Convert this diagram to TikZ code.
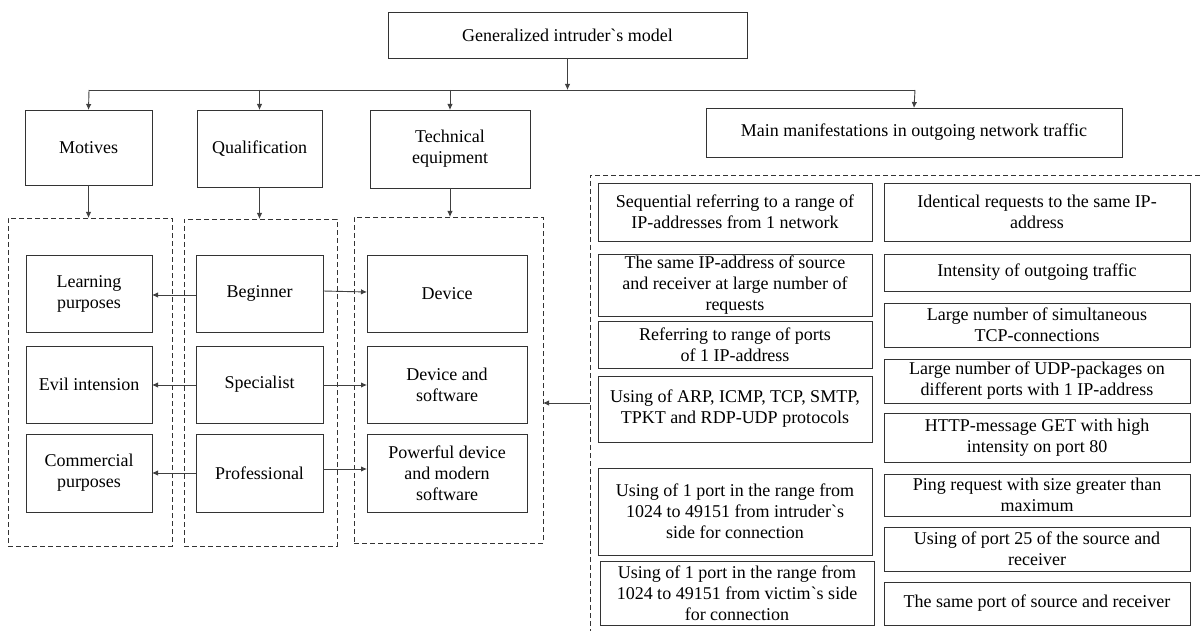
\documentclass[tikz,border=0pt]{standalone}
\usepackage{fontspec}
\setmainfont{Liberation Serif}
\usetikzlibrary{arrows.meta}
\tikzset{
  box/.style={draw=black!80, line width=0.9pt, inner sep=0pt, outer sep=0pt,
    align=center, font=\rmfamily\fontsize{18}{21}\selectfont},
  group/.style={draw=black!80, line width=0.9pt, dash pattern=on 5pt off 3pt,
    inner sep=0pt, outer sep=0pt},
  arr/.style={draw=black!75, line width=0.9pt, -{Latex[length=6pt,width=5.5pt]}},
  link/.style={draw=black!75, line width=0.9pt},
}
% box from its corners: [style]{name}{x1}{y1}{x2}{y2}{text}
\newcommand\drawbox[7][box]{%
  \node[#1, minimum width={#5-#3}, minimum height={#6-#4}] (#2)
    at ({(#3+#5)/2},{(#4+#6)/2}) {#7};}
\newcommand\gr{\textasciigrave}
\begin{document}
\begin{tikzpicture}[x=1pt,y=-1pt]
\useasboundingbox (0,0) rectangle (1200,631);

% top level
\drawbox{top}{388}{12}{747}{58}{Generalized intruder\gr s model}
\drawbox{mot}{25}{110}{152}{185}{Motives}
\drawbox{qual}{197}{110}{322}{187}{Qualification}
\drawbox{tech}{370}{110}{530}{188}{Technical\\equipment}
\drawbox{main}{706}{108}{1122}{157}{Main manifestations in outgoing network traffic}

% bus
\coordinate (busL) at (89,90);
\coordinate (busR) at (915,90);
\draw[link] (busL) -- (busR);
\draw[arr] (top.south) -- (top.south |- busL);
\draw[arr] (busL) -- (mot.north);
\draw[arr] (qual.north |- busL) -- (qual.north);
\draw[arr] (tech.north |- busL) -- (tech.north);
\draw[arr] (busR) -- (main.north);

% dashed groups
\drawbox[group]{g1}{8}{218}{172}{546}{}
\drawbox[group]{g2}{184}{219}{337}{546}{}
\drawbox[group]{g3}{354}{217}{543}{543}{}
\draw[arr] (mot.south) -- (mot.south |- g1.north);
\draw[arr] (qual.south) -- (qual.south |- g2.north);
\draw[arr] (tech.south) -- (tech.south |- g3.north);

% motives
\drawbox{learn}{26}{255}{152}{332}{Learning\\purposes}
\drawbox{evil}{26}{346}{152}{423}{Evil intension}
\drawbox{comm}{26}{434}{152}{512}{Commercial\\purposes}
% qualification
\drawbox{beg}{196}{255}{323}{332}{Beginner}
\drawbox{spec}{196}{346}{323}{423}{Specialist}
\drawbox{prof}{196}{434}{323}{512}{Professional}
% equipment
\drawbox{dev}{367}{255}{527}{332}{Device}
\drawbox{devsw}{367}{346}{527}{423}{Device and\\software}
\drawbox{pow}{367}{434}{527}{512}{Powerful device\\and modern\\software}

\draw[arr] (beg.west |- 0,295) -- (learn.east |- 0,295);
\draw[arr] (beg.east |- 0,291) -- (dev.west |- 0,292);
\draw[arr] (spec.west |- 0,385) -- (evil.east |- 0,385);
\draw[arr] (spec.east |- 0,385) -- (devsw.west |- 0,385);
\draw[arr] (prof.west |- 0,473) -- (comm.east |- 0,473);
\draw[arr] (prof.east |- 0,469) -- (pow.west |- 0,469);

% network traffic panel
\coordinate (panelTL) at (590,175);
\coordinate (panelIn) at (590,403);
\draw[group] (1200,175) -- (panelTL) -- (590,631);
\draw[arr] (panelIn) -- (g3.east |- panelIn);

\drawbox{l1}{598}{183}{872}{241}{Sequential referring to a range of\\IP-addresses from 1 network}
\drawbox{l2}{598}{254}{872}{316}{The same IP-address of source\\and receiver at large number of\\requests}
\drawbox{l3}{598}{321}{872}{368}{Referring to range of ports\\of 1 IP-address}
\drawbox{l4}{598}{376}{872}{442}{Using of ARP, ICMP, TCP, SMTP,\\TPKT and RDP-UDP protocols}
\drawbox{l5}{598}{468}{872}{555}{Using of 1 port in the range from\\1024 to 49151 from intruder\gr s\\side for connection}
\drawbox{l6}{600}{561}{874}{625}{Using of 1 port in the range from\\1024 to 49151 from victim\gr s side\\for connection}

\drawbox{r1}{884}{183}{1190}{241}{Identical requests to the same IP-\\address}
\drawbox{r2}{884}{254}{1190}{291}{Intensity of outgoing traffic}
\drawbox{r3}{884}{303}{1190}{347}{Large number of simultaneous\\TCP-connections}
\drawbox{r4}{884}{359}{1190}{403}{Large number of UDP-packages on\\different ports with 1 IP-address}
\drawbox{r5}{884}{413}{1190}{462}{HTTP-message GET with high\\intensity on port 80}
\drawbox{r6}{884}{474}{1190}{516}{Ping request with size greater than\\maximum}
\drawbox{r7}{884}{527}{1190}{571}{Using of port 25 of the source and\\receiver}
\drawbox{r8}{884}{582}{1190}{625}{The same port of source and receiver}
\end{tikzpicture}
\end{document}
